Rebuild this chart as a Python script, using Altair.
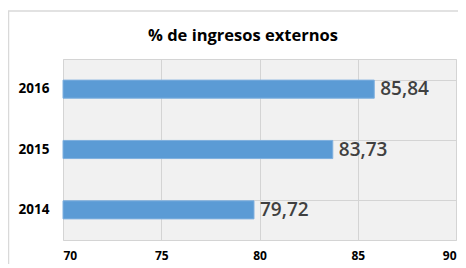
import altair as alt
import pandas as pd

years = ["2014", "2015", "2016"]
values = [79.72, 83.73, 85.84]
x_ticks = [70, 75, 80, 85, 90]
title_text = "% de ingresos externos"

df = pd.DataFrame({"year": years, "value": values})

FONT = "Open Sans"

base = alt.Chart(df).encode(
    y=alt.Y("year:N", sort="descending",
            scale=alt.Scale(paddingInner=0.7, paddingOuter=0.35),
            axis=alt.Axis(title=None, grid=True, bandPosition=0, ticks=False,
                          domain=False, labelFont=FONT, labelFontSize=13.5,
                          labelFontWeight="bold", labelColor="#000000",
                          labelPadding=14, gridColor="#d4d4d4")),
)

bars = base.mark_bar(color="#5b9bd5", stroke="#7fb0df", strokeWidth=1).encode(
    x=alt.X("value:Q", scale=alt.Scale(domain=[70, 90]),
            axis=alt.Axis(title=None, values=x_ticks, grid=True, ticks=False,
                          domain=False, labelFont=FONT, labelFontSize=12,
                          labelFontWeight="bold", labelColor="#000000",
                          labelPadding=10, gridColor="#d4d4d4")),
    x2=alt.datum(70),
)

labels = base.mark_text(align="left", baseline="middle", dx=6, font=FONT,
                        fontSize=19, fontWeight=600, color="#404040").transform_calculate(
    lbl="replace(format(datum.value, '.2f'), '.', ',')"
).encode(x="value:Q", text="lbl:N")

one = pd.DataFrame({"t": [title_text]})

frame = alt.Chart(one).mark_rect(
    fill=None, stroke="#d9d9d9", strokeWidth=1.5, clip=False
).encode(x=alt.value(-54.5), x2=alt.value(420), y=alt.value(-48), y2=alt.value(260))

title = alt.Chart(one).mark_text(
    font=FONT, fontSize=16.5, fontWeight="bold", color="#000000",
    align="center", baseline="alphabetic", clip=False
).encode(x=alt.value(180), y=alt.value(-18), text="t:N")

chart = alt.layer(frame, title, bars, labels).properties(
    width=393, height=181,
    padding={"left": 55, "top": 51, "right": 2, "bottom": 24},
    autosize=alt.AutoSizeParams(type="none"),
).configure_view(fill="#f1f1f1", stroke="#d4d4d4")

chart.save("out.html", embed_options={"renderer": "svg", "actions": False})
